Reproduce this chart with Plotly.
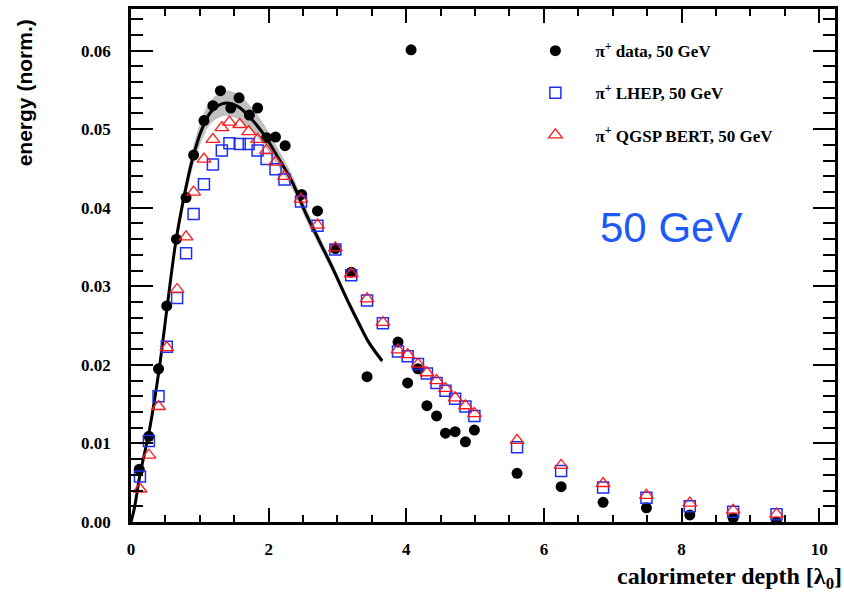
import plotly.graph_objects as go

# Longitudinal shower profile of 50 GeV pi+ in the calorimeter

# Measured profile (depth in interaction lengths, normalised energy)
data_depth = [0.12, 0.26, 0.40, 0.52, 0.66, 0.80, 0.91, 1.06, 1.19, 1.30,
              1.45, 1.57, 1.72, 1.84, 1.97, 2.10, 2.24, 2.48, 2.71, 2.97,
              3.20, 3.43, 3.88, 4.02, 4.07, 4.17, 4.30, 4.44, 4.57, 4.71,
              4.86, 4.99, 5.61, 6.25, 6.86, 7.49, 8.12, 8.75, 9.38]
data_energy = [0.0067, 0.0109, 0.0195, 0.0275, 0.0360, 0.0413, 0.0467, 0.0511, 0.0530, 0.0549,
               0.0527, 0.0540, 0.0518, 0.0527, 0.0489, 0.0490, 0.0479, 0.0417, 0.0396, 0.0348,
               0.0318, 0.0185, 0.0229, 0.0177, 0.0601, 0.0195, 0.0148, 0.0135, 0.0113, 0.0115,
               0.0102, 0.0117, 0.0062, 0.0045, 0.0025, 0.0018, 0.0009, 0.0005, 0.0000]

# Simulated profiles share the same layer depths
sim_depth = [0.13, 0.26, 0.40, 0.52, 0.67, 0.80, 0.91, 1.06, 1.19, 1.32,
             1.43, 1.58, 1.71, 1.84, 1.97, 2.10, 2.23, 2.47, 2.71, 2.97,
             3.20, 3.43, 3.66, 3.88, 4.02, 4.17, 4.30, 4.44, 4.57, 4.71,
             4.86, 4.99, 5.61, 6.25, 6.86, 7.49, 8.12, 8.75, 9.38]
lhep_energy = [0.0058, 0.0103, 0.0160, 0.0223, 0.0285, 0.0342, 0.0392, 0.0430, 0.0455, 0.0473,
               0.0482, 0.0481, 0.0481, 0.0473, 0.0462, 0.0449, 0.0436, 0.0408, 0.0377, 0.0347,
               0.0314, 0.0282, 0.0253, 0.0217, 0.0211, 0.0201, 0.0189, 0.0177, 0.0167, 0.0157,
               0.0147, 0.0135, 0.0095, 0.0065, 0.0044, 0.0031, 0.0020, 0.0013, 0.0010]
qgsp_energy = [0.0042, 0.0085, 0.0147, 0.0222, 0.0296, 0.0363, 0.0420, 0.0462, 0.0487, 0.0502,
               0.0509, 0.0506, 0.0497, 0.0487, 0.0473, 0.0458, 0.0440, 0.0411, 0.0378, 0.0349,
               0.0316, 0.0284, 0.0254, 0.0219, 0.0213, 0.0201, 0.0190, 0.0180, 0.0170, 0.0158,
               0.0148, 0.0138, 0.0104, 0.0072, 0.0049, 0.0034, 0.0024, 0.0015, 0.0010]

# Fitted profile with its uncertainty band
fit_depth = [0.00, 0.05, 0.13, 0.27, 0.41, 0.52, 0.65, 0.78, 0.90, 1.03,
             1.17, 1.36, 1.55, 1.75, 1.94, 2.13, 2.33, 2.54, 2.74, 2.92,
             3.12, 3.31, 3.46, 3.65]
fit_energy = [0.0000, 0.0018, 0.0060, 0.0118, 0.0195, 0.0270, 0.0356, 0.0418, 0.0464, 0.0500,
              0.0523, 0.0533, 0.0529, 0.0513, 0.0492, 0.0465, 0.0435, 0.0393, 0.0357, 0.0325,
              0.0287, 0.0253, 0.0228, 0.0205]
fit_err = [0.0001, 0.0002, 0.0003, 0.0004, 0.0005, 0.0006, 0.0008, 0.0010, 0.0012, 0.0014,
           0.0015, 0.0016, 0.0016, 0.0015, 0.0013, 0.0011, 0.0009, 0.0008, 0.0007, 0.0006,
           0.0005, 0.0005, 0.0004, 0.0004]

x_ticks = [0, 2, 4, 6, 8, 10]
y_ticks = [0.00, 0.01, 0.02, 0.03, 0.04, 0.05, 0.06]

SERIF = "Liberation Serif"
SANS = "Liberation Sans"

fit_low = [e - d for e, d in zip(fit_energy, fit_err)]
fit_high = [e + d for e, d in zip(fit_energy, fit_err)]

fig = go.Figure()

fig.add_trace(go.Scatter(
    x=fit_depth, y=fit_low, mode="lines",
    line=dict(width=0, shape="spline", color="rgba(0,0,0,0)"),
    showlegend=False, hoverinfo="skip"))
fig.add_trace(go.Scatter(
    x=fit_depth, y=fit_high, mode="lines",
    line=dict(width=0, shape="spline", color="rgba(0,0,0,0)"),
    fill="tonexty", fillcolor="rgba(150,150,150,0.6)",
    showlegend=False, hoverinfo="skip"))
fig.add_trace(go.Scatter(
    x=fit_depth, y=fit_energy, mode="lines",
    line=dict(color="black", width=3, shape="spline"),
    showlegend=False))

fig.add_trace(go.Scatter(
    x=data_depth, y=data_energy, mode="markers",
    name="π<sup>+</sup> data, 50 GeV", legendgroup="data",
    marker=dict(symbol="circle", size=11, color="black")))
fig.add_trace(go.Scatter(
    x=sim_depth, y=lhep_energy, mode="markers",
    name="π<sup>+</sup> LHEP, 50 GeV", legendgroup="lhep",
    marker=dict(symbol="square-open", size=11, color="#1f2ff0",
                line=dict(width=1.5, color="#1f2ff0"))))
fig.add_trace(go.Scatter(
    x=sim_depth, y=qgsp_energy, mode="markers",
    name="π<sup>+</sup> QGSP BERT, 50 GeV", legendgroup="qgsp",
    marker=dict(symbol="triangle-up-open", size=12, color="#ff1a1a",
                line=dict(width=1.3, color="#ff1a1a"))))

axis_common = dict(
    ticks="inside", tickcolor="black", tickwidth=2,
    showline=True, linecolor="black", linewidth=2.5, mirror="ticks",
    showgrid=False, zeroline=False,
    tickfont=dict(family=SERIF, size=17, color="black", weight="bold"),
)

fig.update_xaxes(
    range=[0, 10.23], tickvals=x_ticks, tickformat="d", ticklen=14,
    minor=dict(dtick=0.5, tick0=0, ticks="inside", ticklen=7, tickwidth=1.5,
               tickcolor="black", showgrid=False),
    ticklabelstandoff=10, **axis_common)
fig.update_yaxes(
    range=[0, 0.0653], tickvals=y_ticks, tickformat=".2f", ticklen=22,
    minor=dict(dtick=0.002, tick0=0, ticks="inside", ticklen=12, tickwidth=1.5,
               tickcolor="black", showgrid=False),
    ticklabelstandoff=14, **axis_common)

fig.update_layout(
    width=844, height=595,
    margin=dict(l=131, r=6, t=6, b=73),
    plot_bgcolor="white", paper_bgcolor="white",
    legend=dict(
        x=0.546, y=0.953, xanchor="left", yanchor="top",
        bgcolor="rgba(0,0,0,0)", tracegroupgap=17, itemwidth=70,
        font=dict(family=SERIF, size=17, color="black", weight="bold")),
    annotations=[
        dict(text="50 GeV", x=7.84, y=0.0375, xref="x", yref="y",
             showarrow=False, font=dict(family=SANS, size=42, color="#1f5af5")),
        dict(text="energy (norm.)", x=-0.151, y=0.837, xref="paper", yref="paper",
             textangle=-90, showarrow=False, xanchor="center", yanchor="middle",
             font=dict(family=SANS, size=21, color="black", weight="bold")),
        dict(text="calorimeter depth [λ<sub>0</sub>]", x=1.013, y=-0.1085,
             xref="paper", yref="paper", xanchor="right", yanchor="middle",
             showarrow=False,
             font=dict(family=SERIF, size=24, color="black", weight="bold")),
    ],
)

fig.write_html("out.html")
